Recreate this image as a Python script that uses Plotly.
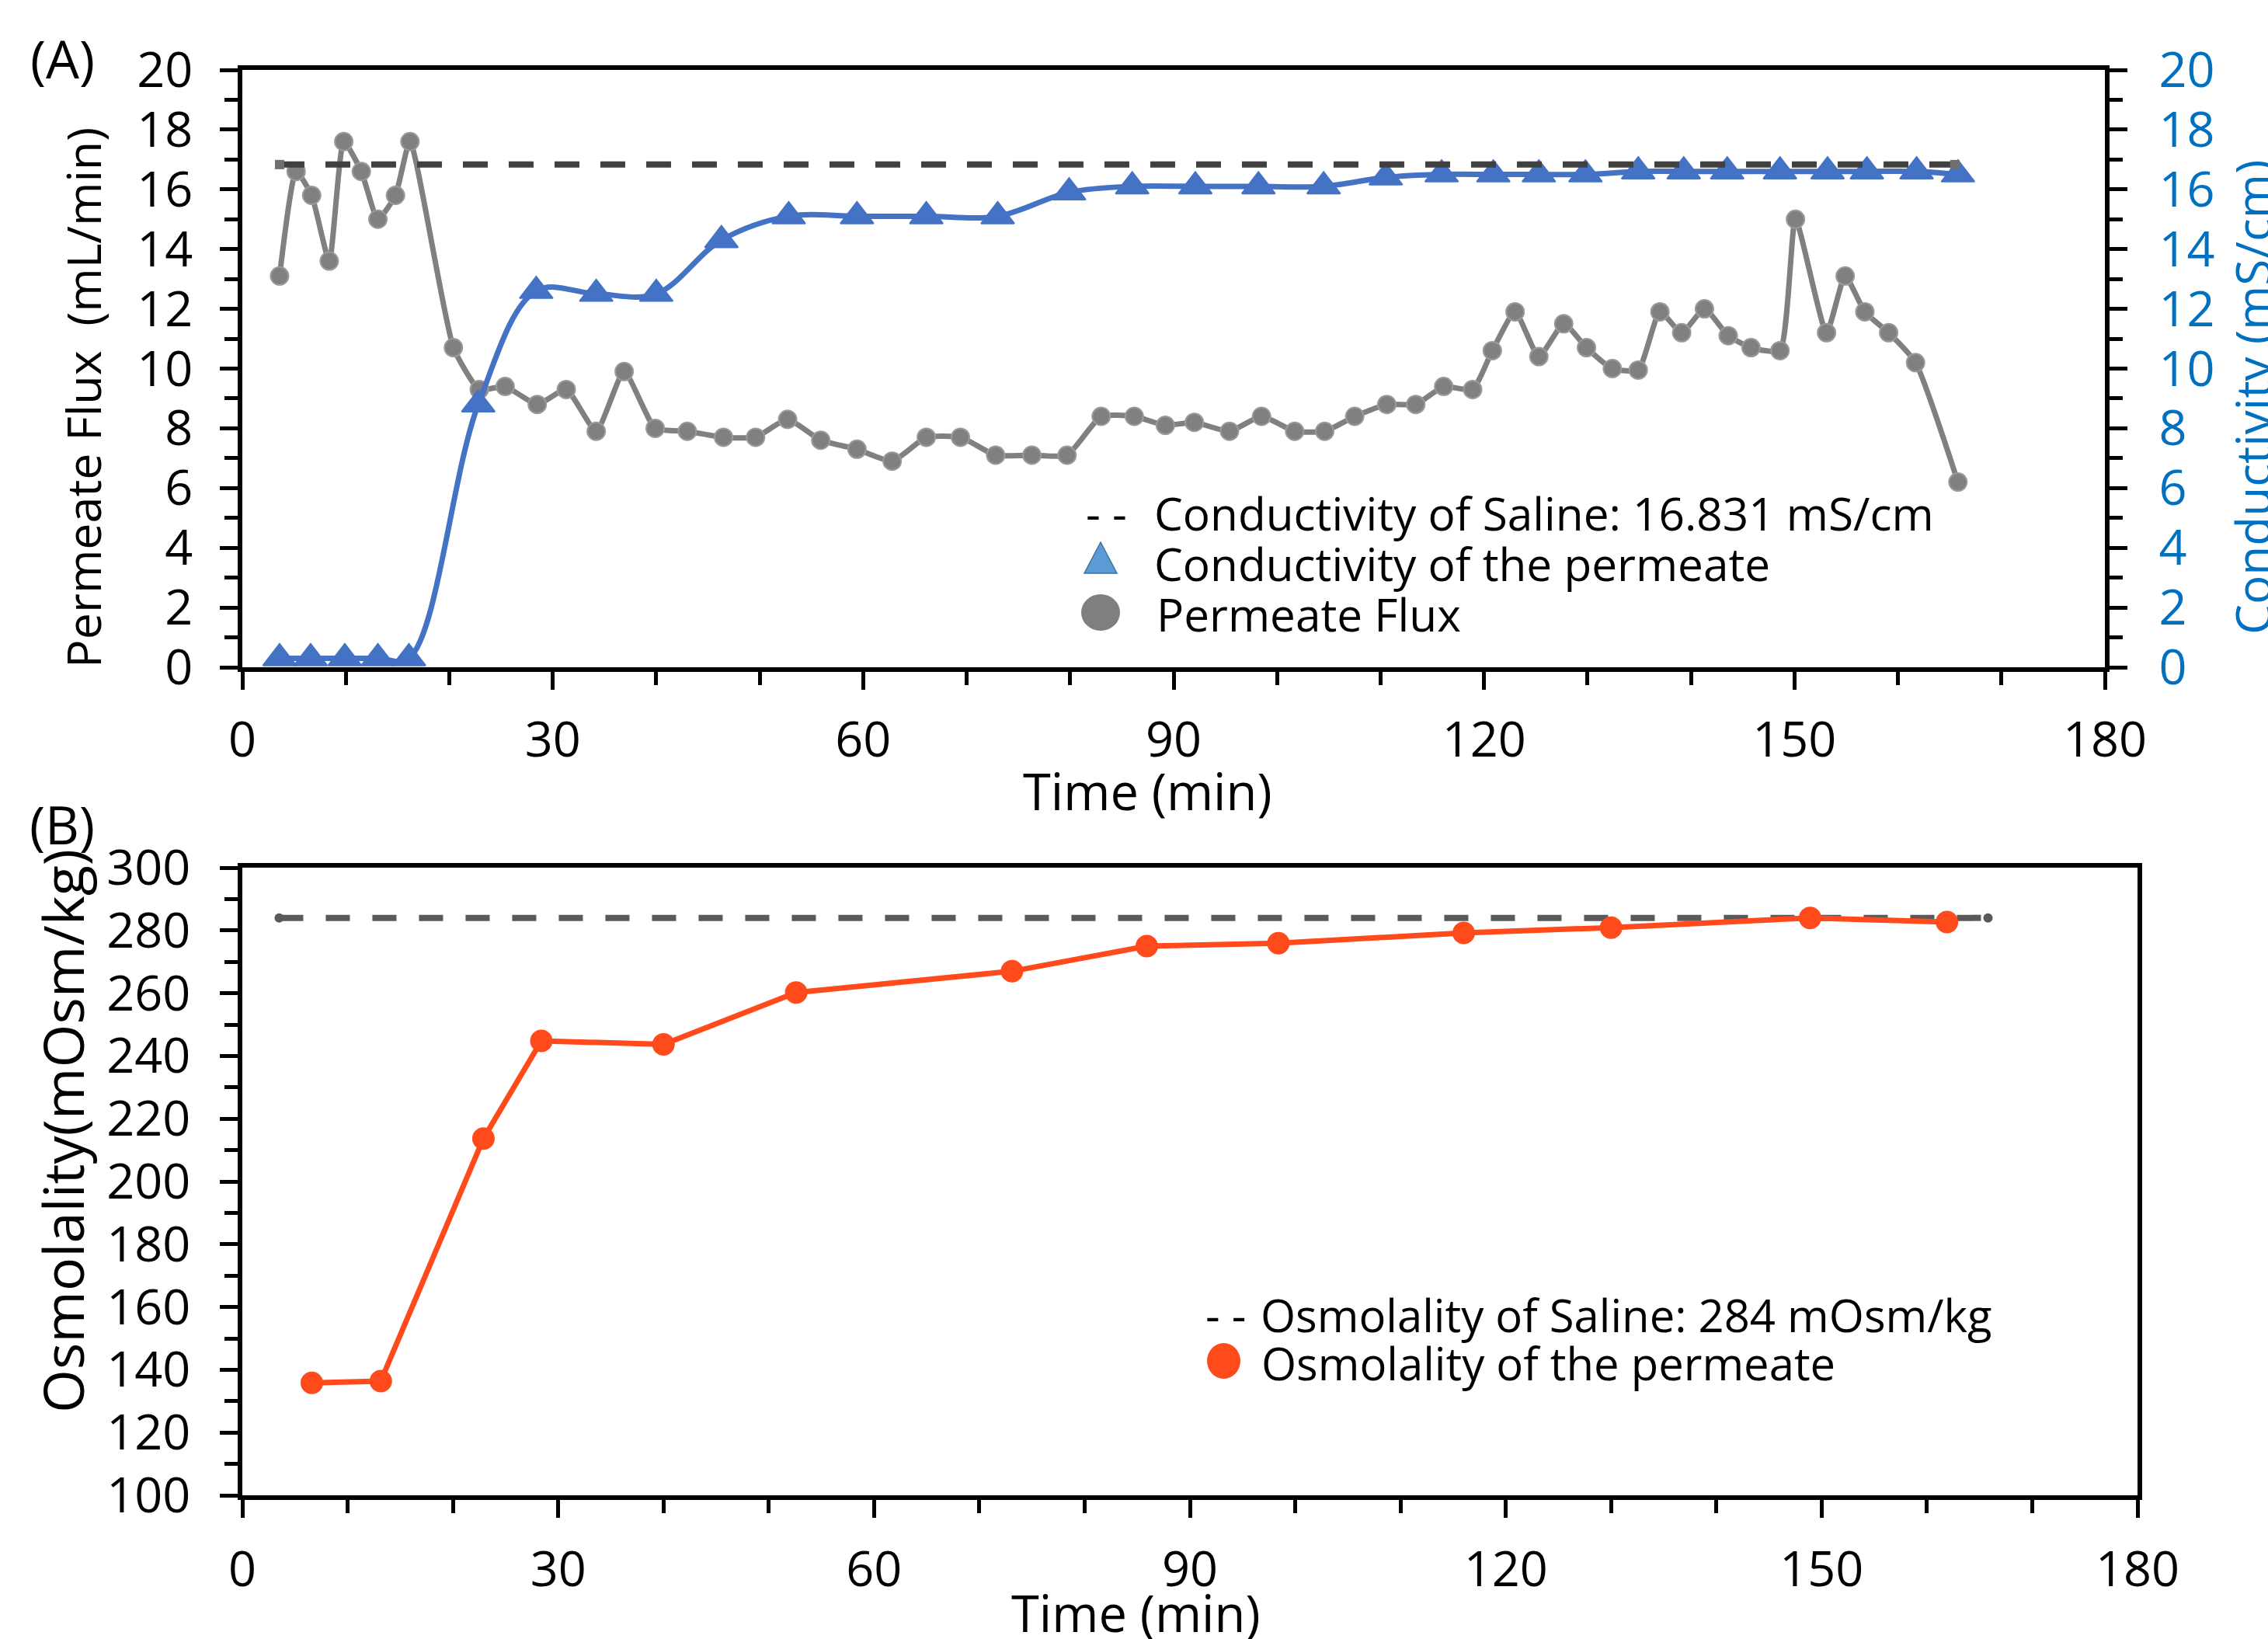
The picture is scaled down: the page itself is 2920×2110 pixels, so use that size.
import plotly.graph_objects as go

W, H = 2920, 2110

# ---------------- data ----------------
flux_t = [3.6, 5.2, 6.7, 8.4, 9.8, 11.5, 13.1, 14.8, 16.2, 20.4, 22.9, 25.4, 28.5, 31.3, 34.2,
          36.9, 39.9, 43.0, 46.5, 49.6, 52.7, 55.9, 59.4, 62.8, 66.1, 69.4, 72.8, 76.3, 79.7,
          83.0, 86.2, 89.2, 92.0, 95.4, 98.5, 101.7, 104.6, 107.5, 110.6, 113.4, 116.1, 118.9,
          120.8, 123.0, 125.3, 127.7, 129.9, 132.4, 134.9, 137.0, 139.1, 141.3, 143.6, 145.8,
          148.6, 150.1, 153.1, 154.9, 156.8, 159.1, 161.7, 165.8]
flux = [13.1, 16.6, 15.8, 13.6, 17.6, 16.6, 15.0, 15.8, 17.6, 10.7, 9.3, 9.4, 8.8, 9.3, 7.9,
        9.9, 8.0, 7.9, 7.7, 7.7, 8.3, 7.6, 7.3, 6.9, 7.7, 7.7, 7.1, 7.1, 7.1,
        8.4, 8.4, 8.1, 8.2, 7.9, 8.4, 7.9, 7.9, 8.4, 8.8, 8.8, 9.4, 9.3,
        10.6, 11.9, 10.4, 11.5, 10.7, 10.0, 9.95, 11.9, 11.2, 12.0, 11.1, 10.7,
        10.6, 15.0, 11.2, 13.1, 11.9, 11.2, 10.2, 6.2]

cond_t = [3.6, 6.6, 9.9, 13.1, 16.1, 22.8, 28.4, 34.2, 40.0, 46.3, 52.8, 59.4, 66.1, 73.0,
          79.9, 86.0, 92.1, 98.2, 104.5, 110.5, 115.9, 120.9, 125.3, 129.8, 134.9, 139.3,
          143.5, 148.6, 153.2, 157.0, 161.8, 165.8]
cond = [0.3, 0.3, 0.3, 0.3, 0.3, 8.8, 12.6, 12.5, 12.5, 14.3, 15.1, 15.1, 15.1, 15.1,
        15.9, 16.1, 16.1, 16.1, 16.1, 16.4, 16.5, 16.5, 16.5, 16.5, 16.6, 16.6,
        16.6, 16.6, 16.6, 16.6, 16.6, 16.5]

saline_cond_t = [3.6, 165.5]
saline_cond = [16.831, 16.831]

osm_t = [6.6, 13.15, 22.9, 28.4, 40.0, 52.6, 73.1, 85.9, 98.4, 116.0, 130.0, 148.9, 161.9]
osm = [135.8, 136.4, 213.7, 244.8, 243.7, 260.2, 267.0, 275.0, 275.9, 279.2, 280.9, 284.0, 282.7]

saline_osm_t = [3.5, 165.8]
saline_osm = [284, 284]

legend_a = ["Conductivity of Saline: 16.831 mS/cm", "Conductivity of the permeate", "Permeate Flux"]
legend_b = ["Osmolality of Saline: 284 mOsm/kg", "Osmolality of the permeate"]

# ---------------- style ----------------
TICKF = "Open Sans"
LEGF = "Open Sans"
BLUE = "#4472C4"
GRAY = "#808080"
ORANGE = "#FF4A1C"
AXBLUE = "#0070C0"


def px(x):
    return x / W


def py(y):
    return 1 - y / H


fig = go.Figure()

# Panel A
fig.add_trace(go.Scatter(x=flux_t, y=flux, mode="lines+markers", xaxis="x", yaxis="y",
                         line=dict(color=GRAY, width=7, shape="spline", smoothing=0.5),
                         marker=dict(symbol="circle", size=23, color=GRAY,
                                     line=dict(color="#9A9A9A", width=2)),
                         showlegend=False))
fig.add_trace(go.Scatter(x=cond_t, y=cond, mode="lines+markers", xaxis="x", yaxis="y2",
                         line=dict(color=BLUE, width=7, shape="spline", smoothing=1.0),
                         marker=dict(symbol="triangle-up", size=37, color=BLUE,
                                     line=dict(color=BLUE, width=2)),
                         showlegend=False))
fig.add_trace(go.Scatter(x=saline_cond_t, y=saline_cond, mode="lines+markers", xaxis="x", yaxis="y2",
                         line=dict(color="#404040", width=8, dash="32px,27px"),
                         marker=dict(symbol="square", size=12, color="#707070"),
                         showlegend=False))

# Panel B
fig.add_trace(go.Scatter(x=saline_osm_t, y=saline_osm, mode="lines+markers", xaxis="x2", yaxis="y3",
                         line=dict(color="#595959", width=8, dash="31px,29px"),
                         marker=dict(symbol="circle", size=12, color="#595959"),
                         showlegend=False))
fig.add_trace(go.Scatter(x=osm_t, y=osm, mode="lines+markers", xaxis="x2", yaxis="y3",
                         line=dict(color=ORANGE, width=7),
                         marker=dict(symbol="circle", size=29, color=ORANGE),
                         showlegend=False))

tickfont = dict(family=TICKF, size=63, color="black")
common = dict(showgrid=False, zeroline=False, showline=True, linecolor="black", linewidth=6,
              ticks="outside", ticklen=23, tickwidth=5, tickcolor="black", tickfont=tickfont,
              automargin=False)
minor_y = dict(ticks="outside", ticklen=17, tickwidth=5, tickcolor="black")

xa = (312, 2710)
xb = (312, 2752)
ya = (90, 859)
yb = (1117, 1925)

fig.update_layout(
    width=W, height=H,
    margin=dict(l=0, r=0, t=0, b=0, pad=0, autoexpand=False),
    paper_bgcolor="white", plot_bgcolor="white",
    showlegend=False,
    xaxis=dict(domain=[px(xa[0]), px(xa[1])], anchor="y", range=[0, 180], dtick=30, tick0=0,
               mirror=True, ticklabelstandoff=10, minor=dict(dtick=10, **minor_y), **common),
    yaxis=dict(domain=[py(ya[1]), py(ya[0])], anchor="x", range=[0, 20], dtick=2, tick0=0,
               ticklabelstandoff=22, minor=dict(dtick=1, **minor_y), **common),
    yaxis2=dict(overlaying="y", side="right", anchor="x", range=[0, 20], dtick=2, tick0=0,
                ticklabelstandoff=28, minor=dict(dtick=1, **minor_y),
                **{**common, "tickfont": dict(family=TICKF, size=63, color=AXBLUE)}),
    xaxis2=dict(domain=[px(xb[0]), px(xb[1])], anchor="y3", range=[0, 180], dtick=30, tick0=0,
                mirror=True, ticklabelstandoff=12, minor=dict(dtick=10, **minor_y), **common),
    yaxis3=dict(domain=[py(yb[1]), py(yb[0])], anchor="x2", range=[100, 300], dtick=20, tick0=100,
                mirror=True, ticklabelstandoff=25, minor=dict(dtick=10, **minor_y), **common),
)

ann = []


def add_text(x, y, text, size=62, family=TICKF, color="black", angle=0, xanchor="center"):
    ann.append(dict(x=px(x), y=py(y), xref="paper", yref="paper", text=text, showarrow=False,
                    textangle=angle, xanchor=xanchor, yanchor="middle",
                    font=dict(family=family, size=size, color=color)))


# Axis titles
add_text(106, 512, "Permeate Flux\u00a0 (mL/min)", size=61, angle=-90)
add_text(2900, 512, "Conductivity (mS/cm)", size=62, angle=-90, color=AXBLUE)
add_text(1477, 1018, "Time (min)", size=65)
add_text(80, 1456, "Osmolality(mOsm/kg)", size=72, angle=-90)
add_text(1462, 2076, "Time (min)", size=65)

# Panel labels
add_text(80, 74, "(A)", size=68)
add_text(80, 1060, "(B)", size=68)

# Legend A
LS = 58.5
add_text(1396, 660, "- -", size=LS, family=LEGF, xanchor="left")
add_text(1484, 660, legend_a[0], size=LS, family=LEGF, xanchor="left")
add_text(1484, 725, legend_a[1], size=LS, family=LEGF, xanchor="left")
add_text(1487, 790, legend_a[2], size=LS, family=LEGF, xanchor="left")

# Legend B
add_text(1550, 1692, "- -", size=58, family=LEGF, xanchor="left")
add_text(1621, 1692, legend_b[0], size=58, family=LEGF, xanchor="left")
add_text(1622, 1754, legend_b[1], size=58, family=LEGF, xanchor="left")

fig.update_layout(annotations=ann)

# Legend symbols (layout shapes)
tri = "M {x0},{y0} L {x1},{y0} L {xm},{y1} Z".format(
    x0=px(1396), x1=px(1438), xm=px(1417), y0=py(738), y1=py(698))
shapes = [
    dict(type="path", xref="paper", yref="paper", path=tri, fillcolor="#5B9BD5",
         line=dict(color="#41719C", width=1.5)),
    dict(type="circle", xref="paper", yref="paper", x0=px(1392), x1=px(1442), y0=py(812), y1=py(765),
         fillcolor="#7F7F7F", line=dict(width=0)),
    dict(type="circle", xref="paper", yref="paper", x0=px(1554), x1=px(1597), y0=py(1775), y1=py(1729),
         fillcolor=ORANGE, line=dict(width=0)),
]
fig.update_layout(shapes=shapes)

fig.write_html("out.html",
               config={"displayModeBar": False},
               post_script="document.body.style.margin='0px';document.body.style.overflow='hidden';")
